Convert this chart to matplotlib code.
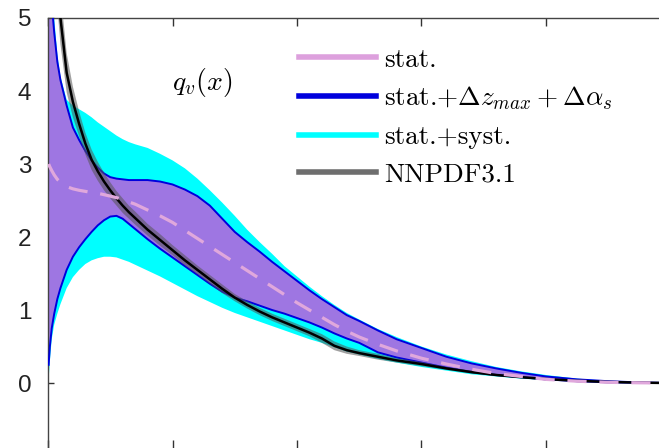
import matplotlib
matplotlib.use("Agg")
import matplotlib.pyplot as plt
from matplotlib.lines import Line2D

plt.rcParams['mathtext.fontset'] = 'cm'

# x grid shared by all curves
xg = [0.001, 0.003, 0.006, 0.01, 0.015, 0.02, 0.03, 0.04, 0.05, 0.06, 0.07, 0.08,
      0.09, 0.1, 0.11, 0.12, 0.13, 0.14, 0.16, 0.18, 0.2, 0.22, 0.24, 0.26,
      0.28, 0.3, 0.32, 0.34, 0.36, 0.38, 0.4, 0.42, 0.44, 0.46, 0.48, 0.5,
      0.53, 0.56, 0.6, 0.64, 0.68, 0.72, 0.76, 0.8, 0.85, 0.9, 0.95, 1.0]

# stat. central value (pink dashed)
stat_c = [3.0, 2.96, 2.91, 2.85, 2.79, 2.75, 2.69, 2.66, 2.64, 2.625, 2.61, 2.6,
          2.58, 2.56, 2.54, 2.51, 2.48, 2.45, 2.37, 2.29, 2.2, 2.09, 1.98, 1.87,
          1.76, 1.65, 1.54, 1.43, 1.32, 1.21, 1.1, 1.0, 0.9, 0.8, 0.71, 0.63,
          0.53, 0.44, 0.34, 0.26, 0.19, 0.13, 0.09, 0.05, 0.025, 0.01, 0.003, 0.0]

# stat.+dz_max+dalpha_s band (blue edges, purple fill)
dz_hi = [8.0, 6.3, 5.2, 4.8, 4.4, 4.15, 3.8, 3.5, 3.33, 3.18, 3.05, 2.95,
         2.87, 2.82, 2.8, 2.79, 2.78, 2.78, 2.78, 2.76, 2.72, 2.65, 2.56, 2.43,
         2.25, 2.07, 1.93, 1.8, 1.66, 1.53, 1.4, 1.27, 1.15, 1.04, 0.93, 0.85,
         0.72, 0.6, 0.48, 0.36, 0.27, 0.2, 0.14, 0.09, 0.05, 0.025, 0.008, 0.0]
dz_lo = [0.25, 0.5, 0.75, 0.95, 1.15, 1.3, 1.55, 1.73, 1.86, 1.97, 2.07, 2.16,
         2.23, 2.28, 2.29, 2.25, 2.18, 2.11, 1.97, 1.84, 1.72, 1.6, 1.48, 1.36,
         1.25, 1.17, 1.12, 1.06, 1.0, 0.95, 0.89, 0.83, 0.76, 0.68, 0.61, 0.55,
         0.42, 0.35, 0.28, 0.21, 0.15, 0.11, 0.08, 0.05, 0.025, 0.01, 0.003, 0.0]

# stat.+syst. band (cyan)
sy_hi = [9.0, 7.0, 5.8, 5.0, 4.5, 4.2, 3.88, 3.8, 3.75, 3.7, 3.64, 3.57,
         3.51, 3.45, 3.39, 3.34, 3.3, 3.27, 3.22, 3.14, 3.05, 2.94, 2.8, 2.64,
         2.47, 2.29, 2.1, 1.93, 1.77, 1.6, 1.46, 1.32, 1.19, 1.07, 0.96, 0.87,
         0.74, 0.63, 0.5, 0.39, 0.3, 0.22, 0.16, 0.11, 0.06, 0.03, 0.01, 0.0]
sy_lo = [0.05, 0.3, 0.6, 0.8, 0.95, 1.08, 1.3, 1.45, 1.55, 1.63, 1.68, 1.71,
         1.73, 1.73, 1.72, 1.69, 1.66, 1.62, 1.54, 1.46, 1.37, 1.28, 1.19, 1.11,
         1.03, 0.96, 0.9, 0.84, 0.78, 0.72, 0.66, 0.6, 0.55, 0.49, 0.43, 0.39,
         0.33, 0.28, 0.22, 0.17, 0.12, 0.09, 0.06, 0.04, 0.02, 0.01, 0.0, 0.0]

# NNPDF3.1 central value and half width
nn_c = [15.0, 10.0, 7.8, 6.5, 5.6, 5.0, 4.25, 3.85, 3.55, 3.28, 3.06, 2.9,
        2.76, 2.64, 2.53, 2.43, 2.34, 2.26, 2.1, 1.96, 1.82, 1.68, 1.55, 1.42,
        1.29, 1.17, 1.07, 0.98, 0.9, 0.83, 0.76, 0.69, 0.61, 0.51, 0.45, 0.41,
        0.36, 0.31, 0.26, 0.2, 0.15, 0.11, 0.08, 0.055, 0.03, 0.015, 0.005, 0.0]
nn_err = [2.0, 1.2, 0.8, 0.6, 0.45, 0.36, 0.27, 0.21, 0.17, 0.15, 0.14, 0.13,
          0.12, 0.11, 0.1, 0.1, 0.09, 0.09, 0.08, 0.08, 0.07, 0.07, 0.06, 0.06,
          0.06, 0.05, 0.05, 0.05, 0.05, 0.05, 0.05, 0.05, 0.06, 0.06, 0.05, 0.04,
          0.04, 0.03, 0.03, 0.02, 0.02, 0.015, 0.01, 0.01, 0.005, 0.005, 0.0, 0.0]

nn_lo = [c - e for c, e in zip(nn_c, nn_err)]
nn_hi = [c + e for c, e in zip(nn_c, nn_err)]

fig = plt.figure(figsize=(6.59, 4.48), dpi=100)
ax = fig.add_axes([48/659, 0.0, 622.5/659, 1 - 18/448])

ax.fill_between(xg, sy_lo, sy_hi, color='#00FFFF', lw=0, zorder=1)
ax.fill_between(xg, dz_lo, dz_hi, color='#9E76E2', lw=0, zorder=2)
ax.plot(xg, dz_hi, color='#0000DD', lw=1.4, zorder=3)
ax.plot(xg, dz_lo, color='#0000DD', lw=1.4, zorder=3)
ax.fill_between(xg, nn_lo, nn_hi, color='#555555', alpha=0.55, lw=0, zorder=4)
ax.plot(xg, nn_c, color='black', lw=1.8, zorder=5)
ax.plot(xg, stat_c, color='#E0A8DC', lw=2.3, dashes=(6, 4), zorder=6)

ax.set_xlim(0, 1)
ax.set_ylim(-0.89, 5)
ax.set_yticks([0, 1, 2, 3, 4, 5])
ax.set_xticks([0, 0.2, 0.4, 0.6, 0.8, 1.0])
ax.set_xticklabels([])
ax.tick_params(direction='in', top=True, right=True, length=6, width=1,
               color='#333333')
ax.tick_params(axis='y', labelsize=17.5, length=4, pad=12)
for lab in ax.get_yticklabels():
    lab.set_fontfamily('Liberation Sans')
    lab.set_color('#222222')
ax.spines['bottom'].set_visible(False)
for s in ['left', 'top', 'right']:
    ax.spines[s].set_color('#444444')
    ax.spines[s].set_linewidth(1.0)

ax.text(0.247, 4.11, r'$q_v(x)$', fontsize=20, ha='center', va='center')

handles = [Line2D([], [], color='#DDA0DD', lw=4),
           Line2D([], [], color='#0000DD', lw=4),
           Line2D([], [], color='#00FFFF', lw=4),
           Line2D([], [], color='#6E6E6E', lw=4)]
labels = ['stat.',
          r'stat.+$\Delta z_{max} + \Delta\alpha_s$',
          'stat.+syst.',
          'NNPDF3.1']
leg = fig.legend(handles, labels, loc='upper left',
                 bbox_to_anchor=(288/659, 1 - 37/448), frameon=False,
                 prop={'family': 'cmr10', 'size': 19.5},
                 handlelength=2.85, handletextpad=0.3,
                 labelspacing=0.48, borderaxespad=0)

fig.savefig('out.png', dpi=100)
